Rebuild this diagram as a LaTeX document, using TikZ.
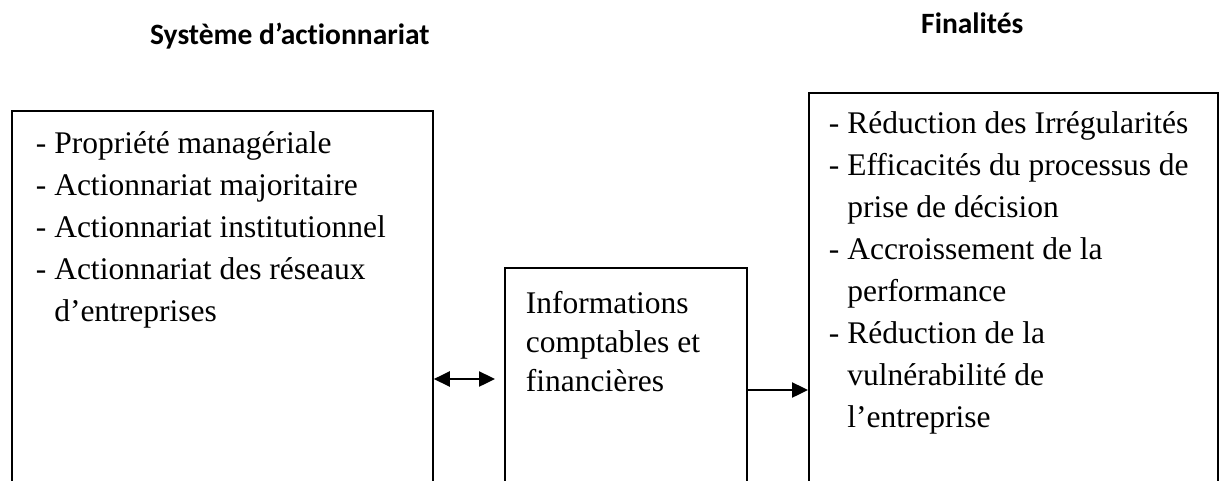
\documentclass[tikz,border=0pt]{standalone}
\usepackage{fontspec}
\setmainfont{Liberation Serif}
\newfontfamily\headfont[Ligatures = NoCommon]{Carlito}
\usetikzlibrary{arrows.meta}

% text set in a fixed frame, top aligned
\newcommand{\panel}[3]{%
  \begin{minipage}[t][#1][t]{#2}\raggedright #3\end{minipage}}
\newcommand{\itm}{-\ }
\newcommand{\cont}{\phantom{-\ }}

\tikzset{
  box/.style = {draw, line width = 1.8pt, anchor = north west, inner sep = 0pt},
  head/.style = {font = \headfont\bfseries\fontsize{29.5}{34}\selectfont,
    anchor = base west, inner sep = 0pt},
  link/.style = {line width = 2.4pt},
  >={Triangle[length = 16pt, width = 15pt]},
}

\begin{document}
\begin{tikzpicture}[x = 1pt, y = -1pt]
  \useasboundingbox[fill = white] (0, 0) rectangle (1222, 480);
  \clip (0, 0) rectangle (1222, 480);

  \node[head] (titleA) at (150, 44) {Système d’actionnariat};
  \node[head] (titleB) at (921, 33) {Finalités};

  \node[box, inner xsep = 24pt, inner ysep = 13pt] (actio) at (11, 110)
  {\panel{380pt}{373pt}{\fontsize{31.5}{42}\selectfont\strut
      \itm Propriété managériale\\
      \itm Actionnariat majoritaire\\
      \itm Actionnariat institutionnel\\
      \itm Actionnariat des réseaux\\
      \cont d’entreprises}};

  \node[box, inner xsep = 21pt, inner ysep = 18pt] (info) at (504, 267)
  {\panel{230pt}{200pt}{\fontsize{31.5}{39}\selectfont\strut
      Informations\\
      comptables et\\
      financières}};

  \node[box, inner xsep = 20pt, inner ysep = 11pt] (final) at (808, 92)
  {\panel{400pt}{369pt}{\fontsize{31.5}{42}\selectfont\strut
      \itm Réduction des Irrégularités\\
      \itm Efficacités du processus de\\
      \cont prise de décision\\
      \itm Accroissement de la\\
      \cont performance\\
      \itm Réduction de la\\
      \cont vulnérabilité de\\
      \cont l’entreprise}};

  \draw[link, <->] (actio.east |- 0, 379) -- ([xshift = -9pt]info.west |- 0, 379);
  \draw[link, ->] (info.east |- 0, 390) -- (final.west |- 0, 390);
\end{tikzpicture}
\end{document}
